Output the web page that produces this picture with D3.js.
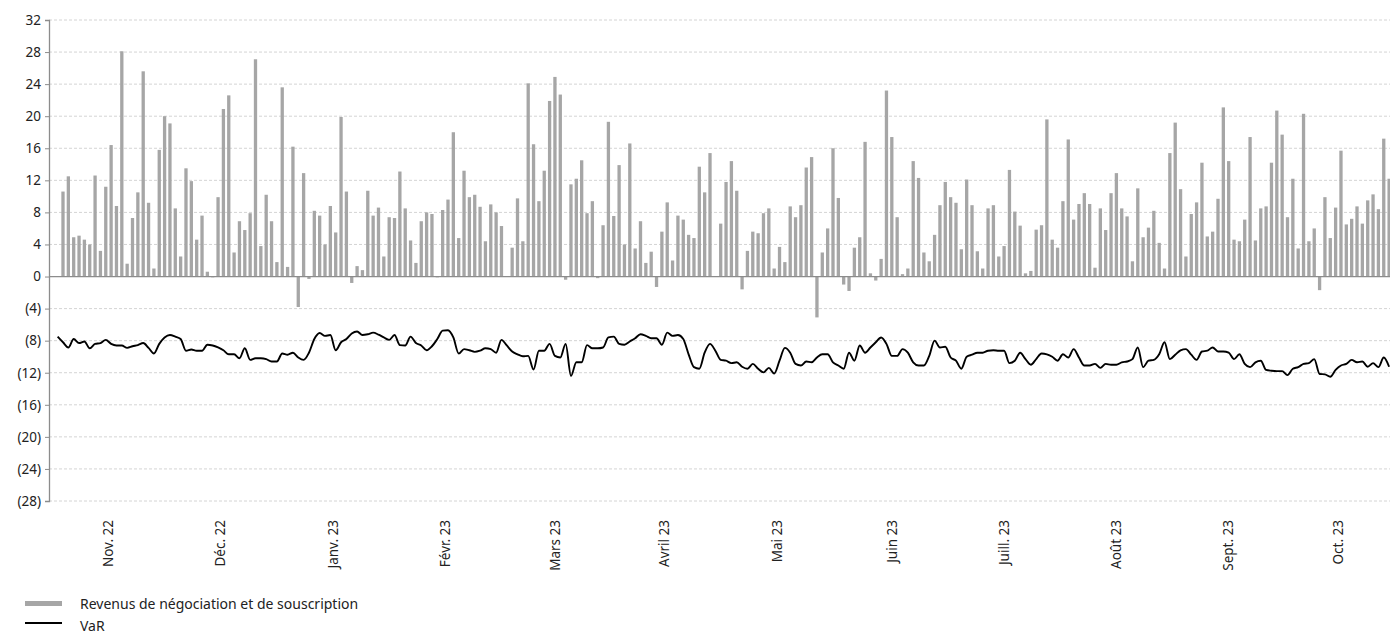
<!DOCTYPE html>
<html lang="fr">
<head>
<meta charset="utf-8">
<script src="https://cdn.jsdelivr.net/npm/d3@7"></script>
<style>
  html, body { margin: 0; padding: 0; background: #fff; }
  svg { display: block; font-family: "Noto Sans", "Open Sans", sans-serif; }
</style>
</head>
<body>
<svg id="chart" width="1390" height="639"></svg>
<script>
// Daily trading & underwriting revenues (one entry per business day)
const revenue = [
  0,
  10.6, 12.5, 4.9, 5.1, 4.6, 4.0, 12.6, 3.2, 11.2, 16.4, 8.8, 28.1, 1.6, 7.3, 10.5, 25.6, 9.2, 1.0, 15.8, 20.0, 19.1, 8.5, 2.5, 13.5,
  11.9, 4.6, 7.6, 0.6, -0.1, 9.9, 20.9, 22.6, 3.0, 6.9, 5.8, 7.9, 27.1, 3.8, 10.2, 6.9, 1.8, 23.6, 1.2, 16.2, -3.8, 12.9, -0.3, 8.2, 7.6, 4.0,
  8.8, 5.5, 19.9, 10.6, -0.8, 1.3, 0.8, 10.7, 7.6, 8.6, 2.5, 7.4, 7.3, 13.1, 8.5, 4.5, 1.7, 6.9, 8.0, 7.8, -0.1, 8.3, 9.6, 18.0, 4.8,
  13.2, 9.9, 10.2, 8.7, 4.4, 9.0, 8.0, 6.3, 0, 3.6, 9.75, 4.4, 24.1, 16.5, 9.4, 13.2, 21.9, 24.9, 22.7, -0.4, 11.5, 12.2, 14.5, 7.9, 9.4,
  -0.2, 6.4, 19.3, 7.55, 13.9, 4.0, 16.6, 3.5, 6.9, 1.7, 3.1, -1.3, 5.6, 9.25, 2.0, 7.6, 7.1, 5.2, 4.8, 13.7, 10.5, 15.4, 0, 6.6, 11.8,
  14.4, 10.7, -1.6, 3.2, 5.6, 5.4, 7.9, 8.5, 1.0, 3.7, 1.8, 8.75, 7.4, 8.9, 13.6, 14.9, -5.1, 3.0, 6.0, 16.0, 9.8, -1.0, -1.8, 3.6, 4.9, 16.8,
  0.4, -0.5, 2.2, 23.2, 17.4, 7.4, 0.3, 1.0, 14.4, 12.3, 3.0, 1.9, 5.2, 8.9, 11.8, 9.9, 9.2, 3.4, 12.1, 8.9, 3.15, 1.0, 8.5, 8.9, 2.5,
  3.8, 13.3, 8.1, 6.35, 0.4, 0.7, 5.85, 6.4, 19.6, 4.6, 3.6, 9.4, 17.1, 7.1, 9.05, 10.4, 9.05, 1.1, 8.5, 5.8, 10.4, 12.9, 8.5, 7.5, 1.9,
  11.0, 4.9, 6.1, 8.2, 4.2, 1.0, 15.4, 19.2, 10.9, 2.5, 7.8, 9.25, 14.2, 5.0, 5.6, 9.7, 21.1, 14.4, 4.6, 4.4, 7.1, 17.4, 4.5, 8.5, 8.75,
  14.2, 20.7, 17.7, 7.4, 12.2, 3.5, 20.3, 4.4, 6.0, -1.7, 9.9, 4.8, 8.6, 15.7, 6.5, 7.2, 8.75, 6.6, 9.5, 10.25, 8.4, 17.2, 12.2
];

// Daily VaR (negative, same business days)
const valueAtRisk = [
  -7.5,
  -8.2, -8.85, -7.8, -8.3, -8.1, -8.95, -8.4, -8.3, -7.9, -8.4, -8.6, -8.6, -8.9, -8.7, -8.55, -8.3, -8.9, -9.6, -8.4, -7.6, -7.3, -7.5, -7.8, -9.25,
  -9.1, -9.25, -9.25, -8.5, -8.6, -8.85, -9.2, -9.7, -9.7, -10.2, -8.95, -10.4, -10.2, -10.2, -10.3, -10.6, -10.6, -9.6, -9.75, -9.5, -10.1, -10.4, -9.5, -7.8, -7.05, -7.4,
  -7.3, -9.2, -8.2, -7.8, -7.1, -6.85, -7.3, -7.2, -7.0, -7.25, -7.6, -7.9, -7.3, -8.55, -8.6, -7.5, -8.3, -8.6, -9.2, -8.7, -7.8, -6.75, -6.7, -7.6, -9.6,
  -9.05, -9.2, -9.4, -9.25, -8.95, -9.05, -9.5, -7.9, -8.6, -9.35, -9.7, -9.95, -9.9, -11.6, -9.25, -9.25, -8.4, -9.9, -10.1, -8.4, -12.4, -10.7, -10.7, -8.55, -8.95,
  -8.95, -8.85, -7.6, -7.5, -8.4, -8.5, -8.1, -7.7, -7.2, -7.4, -7.7, -7.7, -8.5, -7.0, -7.4, -7.3, -7.8, -9.7, -11.3, -11.5, -9.5, -8.4, -9.25, -10.4, -10.5,
  -10.8, -10.7, -11.25, -11.5, -10.9, -11.5, -11.95, -11.4, -12.1, -10.5, -8.9, -9.5, -10.9, -11.1, -10.6, -10.7, -10.1, -9.7, -9.7, -10.7, -11.1, -11.5, -9.5, -10.5, -8.6, -9.5,
  -8.85, -8.2, -7.6, -8.4, -9.9, -9.9, -9.05, -9.5, -10.7, -11.1, -11.1, -9.9, -8.0, -8.85, -8.75, -10.1, -10.5, -11.5, -10.0, -9.75, -9.5, -9.5, -9.25, -9.2, -9.25,
  -9.25, -10.8, -10.5, -9.5, -10.3, -11.0, -10.3, -9.6, -9.7, -10.0, -10.5, -9.7, -10.1, -9.05, -10.1, -11.1, -11.1, -10.9, -11.4, -10.9, -11.0, -11.0, -10.7, -10.6, -10.3,
  -8.85, -11.3, -10.5, -10.4, -9.7, -8.2, -10.3, -9.75, -9.2, -9.05, -9.75, -10.4, -9.35, -9.25, -8.85, -9.35, -9.35, -9.5, -10.3, -9.7, -10.9, -11.3, -10.7, -10.5, -11.65,
  -11.75, -11.8, -11.8, -12.3, -11.5, -11.3, -10.9, -10.8, -10.3, -12.15, -12.2, -12.5, -11.65, -11.1, -10.9, -10.4, -10.7, -10.6, -11.25, -10.8, -11.3, -10.1, -11.25
];

// Month labels and the business-day index each label sits on
const monthLabels = ["Nov. 22", "Déc. 22", "Janv. 23", "Févr. 23", "Mars 23", "Avril 23",
                     "Mai 23", "Juin 23", "Juill. 23", "Août 23", "Sept. 23", "Oct. 23"];
const monthTickIndex = [9.5, 30.5, 51.5, 72.5, 93, 113.5, 134.5, 156, 177, 198, 219, 239.5];

// Value-axis ticks and their labels
const yTicks = [32, 28, 24, 20, 16, 12, 8, 4, 0, -4, -8, -12, -16, -20, -24, -28];
const yTickLabel = v => v < 0 ? "(" + Math.abs(v) + ")" : String(v);

const legendLabels = ["Revenus de négociation et de souscription", "VaR"];

const svg = d3.select("#chart");
const W = 1390;
const plot = { left: 49, right: W, top: 20, bottom: 501 };

const y = d3.scaleLinear().domain([-28, 32]).range([plot.bottom, plot.top]);
const x = d3.scaleLinear().domain([0, revenue.length - 1]).range([57.65, 1389.1]);
const barW = 3.3;

// Dashed gridlines
svg.append("g")
  .selectAll("line")
  .data(yTicks.filter(v => v !== 0))
  .join("line")
  .attr("x1", plot.left).attr("x2", plot.right)
  .attr("y1", d => y(d)).attr("y2", d => y(d))
  .attr("stroke", "#d4d4d4")
  .attr("stroke-width", 1)
  .attr("stroke-dasharray", "3,2");

// Left axis
const yAxis = d3.axisLeft(y).tickValues(yTicks).tickFormat(yTickLabel).tickSize(4).tickPadding(4);
const gy = svg.append("g").attr("transform", `translate(${plot.left},0)`).call(yAxis);
gy.select(".domain").attr("stroke", "#8c8c8c").attr("stroke-width", 1.3);
gy.selectAll(".tick line").attr("stroke", "#8c8c8c");
gy.selectAll(".tick text").attr("fill", "#222").style("font-size", "13.5px")
  .style("font-family", "'Noto Sans', sans-serif");

// Revenue bars
svg.append("g")
  .selectAll("rect")
  .data(revenue)
  .join("rect")
  .attr("x", (d, i) => x(i) - barW / 2)
  .attr("width", barW)
  .attr("y", d => y(Math.max(0, d)))
  .attr("height", d => Math.abs(y(d) - y(0)))
  .attr("fill", "#a6a6a6");

// Zero line
svg.append("line")
  .attr("x1", plot.left).attr("x2", plot.right)
  .attr("y1", y(0)).attr("y2", y(0))
  .attr("stroke", "#8c8c8c").attr("stroke-width", 1.3);

// VaR line
const varLine = d3.line()
  .x((d, i) => x(i))
  .y(d => y(d))
  .curve(d3.curveMonotoneX);
svg.append("path")
  .datum(valueAtRisk)
  .attr("d", varLine)
  .attr("fill", "none")
  .attr("stroke", "#000")
  .attr("stroke-width", 1.9);

// Month labels (rotated)
svg.append("g")
  .selectAll("text")
  .data(monthLabels)
  .join("text")
  .attr("transform", (d, i) => `translate(${x(monthTickIndex[i])},${plot.bottom + 19}) rotate(-90)`)
  .attr("text-anchor", "end")
  .attr("dy", "0.35em")
  .attr("fill", "#222")
  .style("font-size", "13.5px")
  .text(d => d);

// Legend
const lg = svg.append("g");
lg.append("rect").attr("x", 25).attr("y", 601).attr("width", 37).attr("height", 5).attr("fill", "#a6a6a6");
lg.append("line").attr("x1", 25).attr("x2", 62).attr("y1", 623).attr("y2", 623)
  .attr("stroke", "#000").attr("stroke-width", 1.9);
lg.selectAll("text")
  .data(legendLabels)
  .join("text")
  .attr("x", 80)
  .attr("y", (d, i) => 604 + i * 22)
  .attr("dy", "0.35em")
  .attr("fill", "#222")
  .style("font-size", "14px")
  .text(d => d);
</script>
</body>
</html>
